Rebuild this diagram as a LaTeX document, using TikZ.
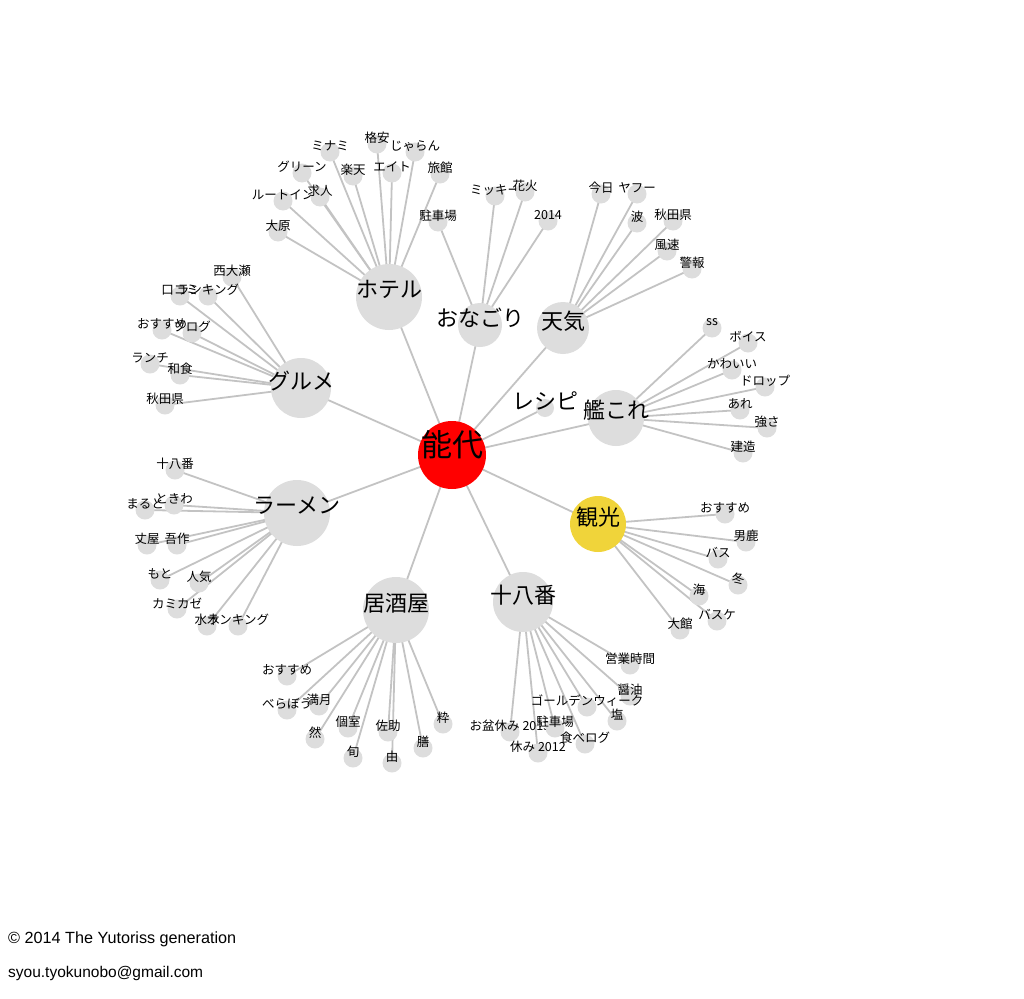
\documentclass[tikz,border=0pt]{standalone}
\usepackage{fontspec}
\setmainfont{Liberation Sans}
\newfontfamily\jpfont{Noto Sans CJK JP}
\usetikzlibrary{positioning,calc,backgrounds}

\definecolor{dotgray}{RGB}{221,221,221}
\definecolor{linkgray}{RGB}{195,195,195}
\definecolor{hubred}{RGB}{255,0,0}
\definecolor{hubyellow}{RGB}{240,212,58}

\tikzset{
  link/.style={draw=linkgray, line width=1.8pt},
  leafdot/.style={circle, fill=dotgray, minimum size=19pt, inner sep=0pt},
  hubdot/.style={circle, fill=dotgray, inner sep=0pt},
  leaftext/.style={font=\jpfont\fontsize{12.5}{13}\selectfont, text=black, inner sep=0pt},
  hubtext/.style={font=\jpfont\fontsize{22}{24}\selectfont, text=black, inner sep=0pt},
}

\begin{document}
\begin{tikzpicture}[x=1pt,y=-1pt]

\useasboundingbox (0,0) rectangle (1024,998);

% hubs
\node[hubdot, fill=hubred, minimum size=68pt,
  label={[hubtext, font=\jpfont\fontsize{31}{33}\selectfont, yshift=10pt]center:能代}] (nodai) at (452,455) {};
\node[hubdot, minimum size=66pt, label={[hubtext, yshift=8pt]center:ホテル}] (hotel) at (389,297) {};
\node[hubdot, minimum size=44pt, label={[hubtext, yshift=7pt]center:おなごり}] (onagori) at (480,325) {};
\node[hubdot, minimum size=52pt, label={[hubtext, yshift=7pt]center:天気}] (tenki) at (563,328) {};
\node[hubdot, minimum size=18pt, label={[hubtext, yshift=7pt]center:レシピ}] (recipe) at (545,408) {};
\node[hubdot, minimum size=56pt, label={[hubtext, yshift=8pt]center:艦これ}] (kancolle) at (616,418) {};
\node[hubdot, fill=hubyellow, minimum size=56pt, label={[hubtext, yshift=7pt]center:観光}] (kanko) at (598,524) {};
\node[hubdot, minimum size=60pt, label={[hubtext, yshift=7pt]center:十八番}] (juhachi) at (523,602) {};
\node[hubdot, minimum size=66pt, label={[hubtext, yshift=7pt]center:居酒屋}] (izakaya) at (396,610) {};
\node[hubdot, minimum size=66pt, label={[hubtext, yshift=7pt]center:ラーメン}] (ramen) at (297,513) {};
\node[hubdot, minimum size=60pt, label={[hubtext, yshift=7pt]center:グルメ}] (gourmet) at (301,388) {};

% leaves of each hub
\foreach \n/\x/\y/\t in {mina/330/152/ミナミ, kaku/377/144/格安, jala/415/152/じゃらん,
    gree/302/173/グリーン, raku/353/176/楽天, eito/392/173/エイト, ryok/440/174/旅館,
    rout/283/201/ルートイン, kyuj/320/197/求人, ohar/278/232/大原}
  \node[leafdot, label={[leaftext, yshift=6pt]center:\t}] (\n) at (\x,\y) {};

\foreach \n/\x/\y/\t in {ochu/438/222/駐車場, mick/495/196/ミッキー, hana/525/192/花火, ynen/548/221/2014}
  \node[leafdot, label={[leaftext, yshift=6pt]center:\t}] (\n) at (\x,\y) {};

\foreach \n/\x/\y/\t in {kyou/601/194/今日, yafu/637/194/ヤフー, nami/637/223/波,
    takit/673/221/秋田県, fuso/667/251/風速, keih/692/269/警報}
  \node[leafdot, label={[leaftext, yshift=6pt]center:\t}] (\n) at (\x,\y) {};

\foreach \n/\x/\y/\t in {nish/232/277/西大瀬, kuch/180/296/口コミ, gran/208/296/ランキング,
    gosu/162/330/おすすめ, blog/192/333/ブログ, lunc/150/364/ランチ, wash/180/375/和食,
    gaki/165/405/秋田県}
  \node[leafdot, label={[leaftext, yshift=6pt]center:\t}] (\n) at (\x,\y) {};

\foreach \n/\x/\y/\t in {rjuh/175/470/十八番, maru/145/510/まると, toki/174/505/ときわ,
    joya/147/545/丈屋, gosa/177/545/吾作, moto/160/580/もと, ninki/199/583/人気,
    kami/177/609/カミカゼ, mizu/207/626/水木, rran/238/626/ランキング}
  \node[leafdot, label={[leaftext, yshift=6pt]center:\t}] (\n) at (\x,\y) {};

\foreach \n/\x/\y/\t in {iosu/287/676/おすすめ, bera/287/710/べらぼう, mang/319/706/満月,
    zen/315/739/然, kosh/348/728/個室, shun/353/758/旬, sasu/388/732/佐助,
    yosh/392/763/由, zenn/423/748/膳, iki/443/724/粋}
  \node[leafdot, label={[leaftext, yshift=6pt]center:\t}] (\n) at (\x,\y) {};

\foreach \n/\x/\y/\t in {eigy/630/665/営業時間, shou/630/696/醤油, gold/587/707/ゴールデンウィーク,
    shio/617/721/塩, obon/510/732/お盆休み 2013, jchu/555/728/駐車場,
    tabe/585/744/食べログ, yasu/538/753/休み 2012}
  \node[leafdot, label={[leaftext, yshift=6pt]center:\t}] (\n) at (\x,\y) {};

\foreach \n/\x/\y/\t in {ss/712/328/ss, bois/748/343/ボイス, kawa/732/370/かわいい,
    drop/765/387/ドロップ, are/740/410/あれ, tsuy/767/428/強さ, kenz/743/453/建造}
  \node[leafdot, label={[leaftext, yshift=6pt]center:\t}] (\n) at (\x,\y) {};

\foreach \n/\x/\y/\t in {kosu/725/514/おすすめ, oga/746/542/男鹿, bus/718/559/バス,
    fuyu/738/585/冬, umi/699/596/海, bask/717/621/バスケ, odat/680/630/大館}
  \node[leafdot, label={[leaftext, yshift=6pt]center:\t}] (\n) at (\x,\y) {};

% links
\begin{scope}[on background layer]
  \foreach \h in {hotel,onagori,tenki,recipe,kancolle,kanko,juhachi,izakaya,ramen,gourmet}
    \draw[link] (nodai.center) -- (\h.center);
  \foreach \n in {mina,kaku,jala,gree,raku,eito,ryok,rout,kyuj,ohar}
    \draw[link] (hotel.center) -- (\n.center);
  \foreach \n in {ochu,mick,hana,ynen}
    \draw[link] (onagori.center) -- (\n.center);
  \foreach \n in {kyou,yafu,nami,takit,fuso,keih}
    \draw[link] (tenki.center) -- (\n.center);
  \foreach \n in {nish,kuch,gran,gosu,blog,lunc,wash,gaki}
    \draw[link] (gourmet.center) -- (\n.center);
  \foreach \n in {rjuh,maru,toki,joya,gosa,moto,ninki,kami,mizu,rran}
    \draw[link] (ramen.center) -- (\n.center);
  \foreach \n in {iosu,bera,mang,zen,kosh,shun,sasu,yosh,zenn,iki}
    \draw[link] (izakaya.center) -- (\n.center);
  \foreach \n in {eigy,shou,gold,shio,obon,jchu,tabe,yasu}
    \draw[link] (juhachi.center) -- (\n.center);
  \foreach \n in {ss,bois,kawa,drop,are,tsuy,kenz}
    \draw[link] (kancolle.center) -- (\n.center);
  \foreach \n in {kosu,oga,bus,fuyu,umi,bask,odat}
    \draw[link] (kanko.center) -- (\n.center);
\end{scope}

% footer
\node[anchor=base west, inner sep=0pt, font=\fontsize{16.2}{18}\selectfont] (copyline) at (8,943) {© 2014 The Yutoriss generation};
\node[anchor=base west, inner sep=0pt, font=\fontsize{15.5}{18}\selectfont] (mailline) at (8,977) {syou.tyokunobo@gmail.com};

\end{tikzpicture}
\end{document}
